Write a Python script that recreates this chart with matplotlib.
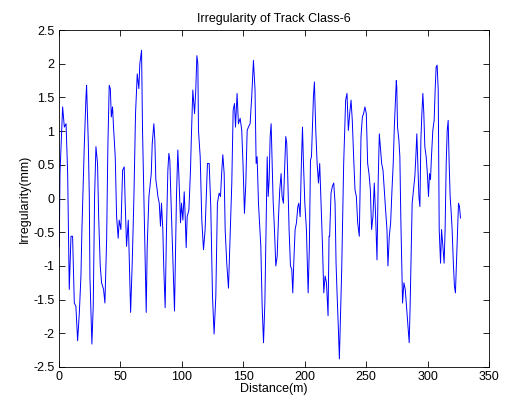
import matplotlib
matplotlib.use("Agg")
import numpy as np
import matplotlib.pyplot as plt

# distance along the track (m) and irregularity (mm)
distance = [
    0.0, 0.5, 1.05, 3.2, 4.6, 6.0, 7.3, 8.6, 10.0, 11.3, 12.7, 14.0, 15.4, 16.8, 18.1, 18.9,
    20.8, 22.2, 22.7, 24.1, 24.9, 25.4, 27.0, 28.1, 29.2, 30.3, 31.6, 32.5, 33.8, 34.9, 36.5,
    37.6, 39.0, 40.0, 41.1, 42.0, 42.8, 43.8, 44.6, 46.0, 47.1, 48.4, 49.2, 50.6, 52.0, 53.3,
    54.1, 55.2, 56.6, 58.5, 59.8, 61.2, 62.5, 63.9, 65.2, 66.0, 67.4, 68.2, 69.3, 71.2, 72.0,
    73.4, 75.3, 76.1, 77.4, 78.2, 79.0, 80.1, 80.7, 81.8, 82.8, 83.6, 84.7, 85.5, 86.6, 87.7,
    88.8, 89.6, 90.4, 91.0, 91.8, 92.9, 94.2, 95.0, 95.8, 96.9, 97.7, 99.1, 99.9, 101.0, 102.1,
    102.9, 103.7, 104.5, 105.9, 107.2, 108.0, 109.1, 110.5, 111.5, 112.4, 113.2, 113.7, 115.1,
    116.4, 117.8, 119.1, 121.0, 122.4, 123.7, 125.1, 126.4, 127.8, 129.1, 130.5, 131.6, 132.7,
    133.5, 134.6, 135.4, 136.7, 138.1, 139.4, 140.8, 141.9, 143.0, 143.8, 145.1, 146.2, 147.6,
    148.9, 150.0, 151.1, 152.2, 153.3, 154.3, 155.7, 157.0, 158.4, 159.7, 160.6, 161.4, 162.5,
    164.4, 165.5, 166.6, 167.7, 168.5, 169.6, 170.4, 171.2, 172.0, 172.8, 173.6, 174.4, 175.5,
    176.6, 177.7, 178.8, 179.8, 180.9, 181.7, 182.8, 183.9, 184.7, 185.5, 186.3, 187.4, 188.5,
    189.6, 190.4, 191.2, 192.3, 193.4, 194.5, 195.3, 196.4, 197.4, 198.3, 199.1, 200.2, 201.5,
    202.9, 203.9, 204.8, 205.6, 206.4, 207.2, 208.0, 209.1, 210.2, 211.3, 212.3, 213.4, 214.5,
    215.6, 216.7, 217.8, 219.1, 219.9, 220.4, 221.5, 222.6, 223.7, 224.8, 225.6, 226.4, 227.5,
    228.3, 229.1, 230.2, 231.0, 231.8, 232.6, 233.4, 234.5, 235.6, 236.7, 237.8, 238.8, 239.9,
    241.0, 242.1, 243.2, 244.5, 245.9, 247.0, 248.0, 249.1, 250.2, 251.3, 252.4, 253.5, 254.5,
    255.6, 256.7, 257.8, 258.9, 259.9, 260.8, 261.6, 262.7, 263.8, 264.8, 265.9, 267.0, 267.8,
    268.9, 270.0, 271.1, 272.1, 273.0, 273.8, 274.6, 275.0, 275.6, 276.7, 277.5, 278.3, 279.1,
    279.7, 280.8, 281.9, 282.9, 284.0, 285.1, 285.9, 286.7, 287.5, 288.6, 289.7, 290.5, 291.3,
    292.1, 293.0, 293.8, 294.6, 295.4, 296.2, 297.0, 297.8, 298.9, 300.0, 300.8, 301.6, 302.4,
    303.2, 304.3, 305.4, 306.2, 307.0, 307.8, 308.7, 309.5, 310.6, 311.4, 312.5, 313.5, 314.3,
    315.2, 316.0, 316.8, 317.6, 318.4, 319.3, 320.0, 321.1, 321.9, 322.7, 323.6, 324.4, 325.2,
    326.0, 326.8,
]
irregularity = [
    -0.35, -0.71, 0.37, 1.36, 1.06, 1.11, 0.37, -1.35, -0.56, -0.56, -1.55, -1.6, -2.11, -1.69, -1.15, -0.46,
    0.77, 1.51, 1.68, 0.82, 0.03, -1.15, -2.16, -1.6, 0.03, 0.77, 0.52, -0.27, -1.0, -1.25, -1.35,
    -1.55, -0.61, 0.77, 1.68, 1.63, 1.21, 1.36, 1.06, 0.62, -0.27, -0.59, -0.32, -0.46, 0.42, 0.47,
    -0.07, -0.71, -0.32, -1.69, -0.96, 0.03, 1.26, 1.85, 1.63, 2.0, 2.2, 1.01, 0.03, -1.69, -0.71,
    0.03, 0.37, 0.82, 1.11, 0.87, 0.28, 0.13, 0.03, -0.07, -0.41, -0.07, -0.46, -1.05, -1.62, -0.46,
    0.42, 0.67, 0.57, 0.18, -0.27, -0.86, -1.67, -0.86, 0.03, 0.72, 0.37, -0.36, -0.07, -0.32, 0.1,
    -0.27, -0.73, -0.27, -0.17, 0.42, 0.97, 1.61, 1.26, 1.61, 2.12, 2.0, 1.01, 0.62,
    -0.32, -0.76, -0.46, 0.52, 0.52, -0.12, -1.45, -2.01, -1.45, -0.07, 0.08, 0.03, 0.42,
    0.65, 0.37, -0.46, -0.96, -1.33, -0.56, 0.23, 1.31, 1.41, 1.06, 1.56, 1.11, 1.19,
    1.01, 0.47, -0.22, 0.23, 1.01, 1.06, 1.11, 1.51, 2.05, 1.61, 0.52, 0.62, -0.07,
    -0.71, -1.6, -2.14, -1.55, -0.66, 0.62, 0.03, 0.28, 0.92, 1.11, 0.57, -0.02, -0.46,
    -1.0, -0.86, -0.27, 0.13, 0.37, 0.03, -0.07, 0.52, 0.92, 0.82, 0.33, -0.46, -1.0,
    -1.05, -1.4, -0.96, -0.46, -0.36, -0.12, -0.07, -0.27, 0.52, 1.06, 0.52, -0.07, -0.46,
    -1.4, -0.71, 0.57, 0.62, 1.06, 1.51, 1.73, 1.01, 0.52, 0.23, 0.52, -0.07, -0.66,
    -1.4, -1.15, -1.25, -1.74, -0.56, -0.56, 0.08, 0.18, 0.23, -0.07, -0.96, -1.4, -1.94,
    -2.38, -1.84, -1.05, -0.27, 0.52, 1.01, 1.46, 1.56, 1.01, 1.26, 1.46, 1.16, 0.62,
    0.13, 0.03, -0.36, -0.56, 0.92, 1.21, 1.26, 1.36, 1.26, 0.52, 0.37, 0.13, -0.46,
    -0.27, 0.23, -0.27, -0.91, 0.28, 0.96, 0.77, 0.52, 0.42, 0.13, -0.17, -0.46, -1.0,
    -0.56, -0.36, 0.13, 0.52, 1.06, 1.41, 1.75, 1.65, 1.06, 0.87, 0.62, -0.32, -1.0,
    -1.55, -1.25, -1.35, -1.6, -1.89, -2.14, -1.55, -0.81, -0.07, 0.13, 0.33, 0.62, 0.96,
    0.52, 0.03, -0.12, 0.87, 1.26, 1.56, 1.26, 0.77, 0.62, 0.33, 0.03, 0.37, 0.28,
    0.62, 1.01, 1.16, 1.61, 1.95, 1.98, 1.61, -0.46, -0.96, -0.46, -0.71, -0.96, -0.46,
    0.52, 1.01, 1.16, 0.52, 0.03, -0.22, -0.46, -1.0, -1.3, -1.4, -0.91, -0.46, -0.07,
    -0.12, -0.29,
]

plt.rcParams['font.family'] = ['Liberation Sans', 'DejaVu Sans']
plt.rcParams['font.size'] = 9

fig = plt.figure(figsize=(5.09, 4.04), dpi=100)
ax = fig.add_axes([0.1153, 0.0916, 0.8454, 0.834])

ax.plot(distance, irregularity, color='#0000ff', linewidth=0.7)

ax.set_xlim(0, 350)
ax.set_ylim(-2.5, 2.5)
ax.set_xticks(np.arange(0, 351, 50))
ax.set_yticks(np.arange(-2.5, 2.51, 0.5))
ax.set_yticklabels(['-2.5', '-2', '-1.5', '-1', '-0.5', '0', '0.5', '1', '1.5', '2', '2.5'])
ax.tick_params(direction='in', top=True, right=True, length=4, width=0.6, labelsize=9, pad=3)
for s in ax.spines.values():
    s.set_linewidth(0.6)

ax.set_xlabel('Distance(m)', fontsize=9, labelpad=0)
ax.set_ylabel('Irregularity(mm)', fontsize=9, labelpad=2)
ax.set_title('Irregularity of Track Class-6', fontsize=9, pad=6)

fig.savefig('out.png', dpi=100)
